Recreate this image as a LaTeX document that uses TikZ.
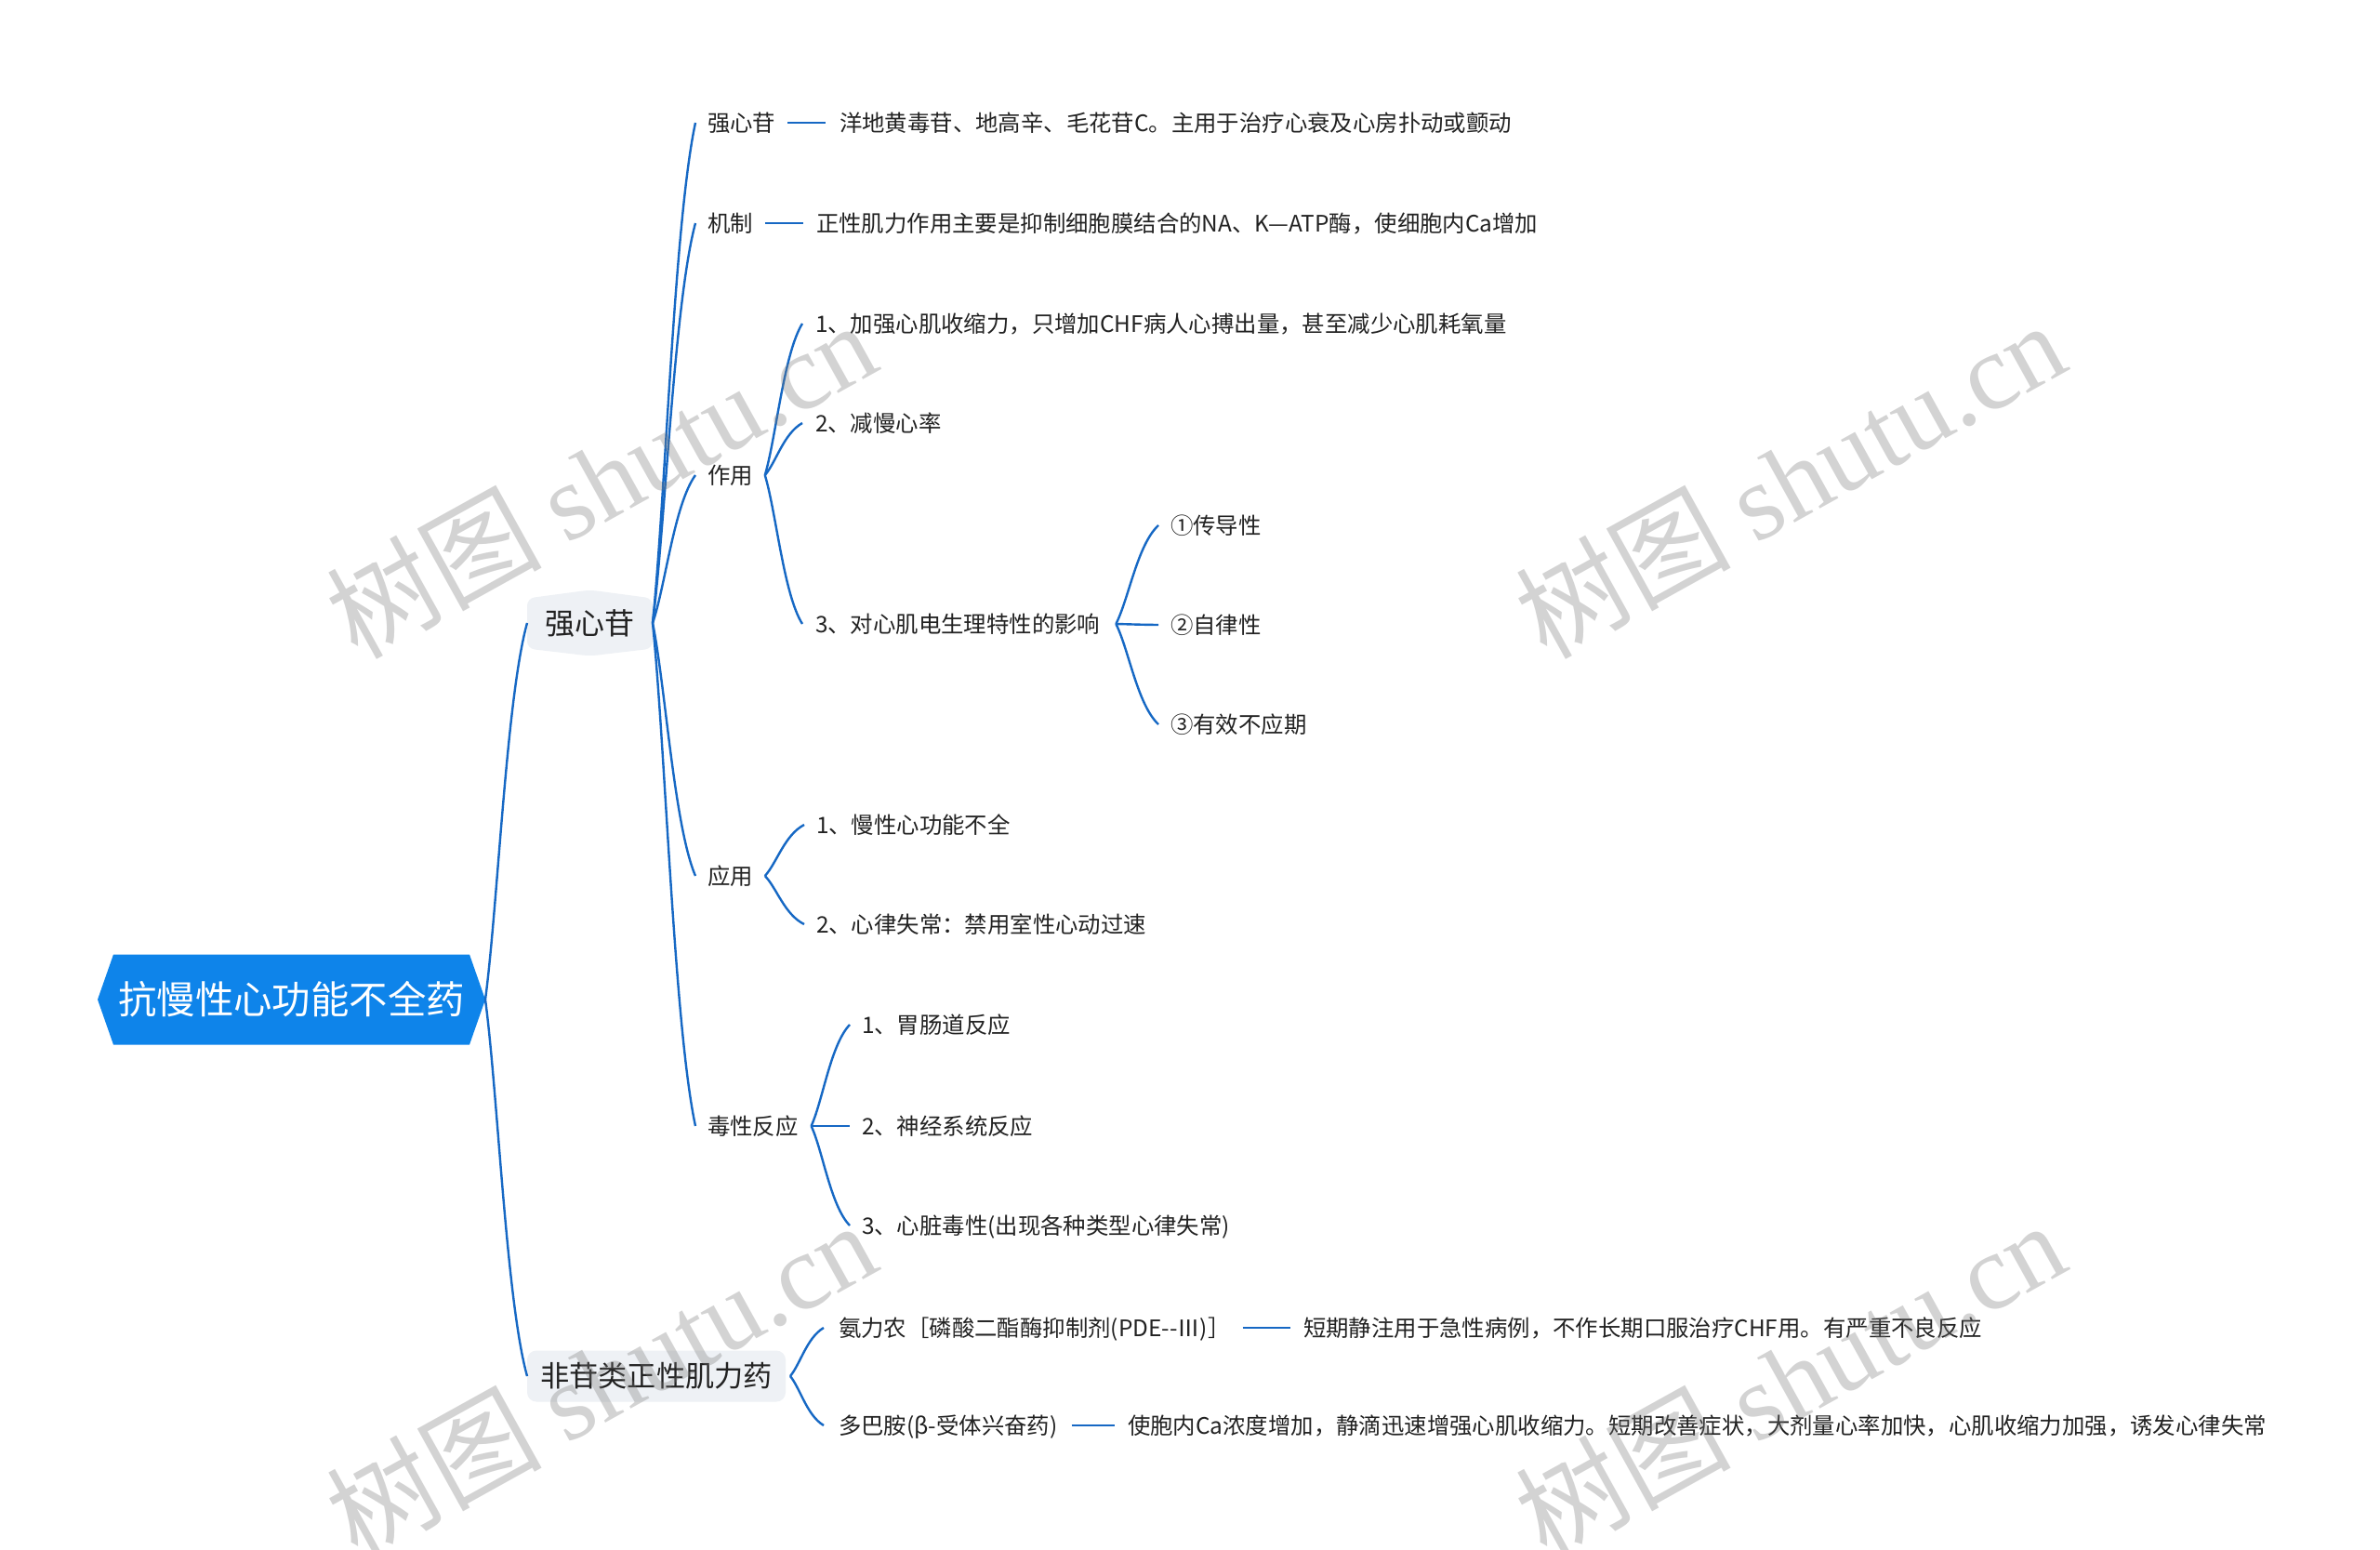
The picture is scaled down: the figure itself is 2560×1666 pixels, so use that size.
\documentclass[tikz,border=0pt]{standalone}
\usepackage{fontspec}
\setmainfont{Noto Sans CJK SC}
\newfontfamily\wmlatin{Liberation Serif}
\usetikzlibrary{calc,backgrounds}
\definecolor{conn}{RGB}{22,104,196}
\definecolor{rootblue}{RGB}{14,132,234}
\definecolor{lonefill}{RGB}{238,241,245}
\definecolor{txt}{RGB}{34,34,34}
\definecolor{wmgray}{RGB}{120,120,120}
\newcommand\brc[4]{\draw[link] let \p1=($(#1)+(#2,0)$), \p2=($(#3)+(#4,0)$) in (\p1) .. controls ({\x1+0.3*(\x2-\x1)},{\y1+0.25*(\y2-\y1)}) and ({\x2-0.5*(\x2-\x1)},{\y2-0.2*(\y2-\y1)}) .. (\p2);}
\begin{document}
\begin{tikzpicture}[x=0.5pt,y=-0.5pt,
  every node/.style={inner sep=0pt,outer sep=0pt,text=txt},
  leaf/.style={anchor=west,font=\fontsize{12.2pt}{14pt}\selectfont,text height=10.5pt,text depth=1.2pt},
  link/.style={draw=conn,line width=1.2pt},
  wmark/.style={rotate=29,text=wmgray,text opacity=0.32,font=\fontsize{58pt}{58pt}\selectfont}]
\useasboundingbox (0,0) rectangle (2560,1666);

% root
\node[minimum width=208.5pt,minimum height=48.5pt,text=white,font=\fontsize{20.7pt}{24pt}\selectfont] (root) at (313.5,1075) {抗慢性心功能不全药};
% level 1
\node[minimum width=67.5pt,minimum height=35.5pt,font=\fontsize{16pt}{19pt}\selectfont] (qxg) at (634.5,670) {强心苷};
\node[minimum width=139pt,minimum height=27.5pt,font=\fontsize{15.6pt}{18pt}\selectfont] (fg) at (706,1480) {非苷类正性肌力药};

\begin{scope}[on background layer]
\fill[white] (0,0) rectangle (2560,1666);
\fill[rootblue] (root.west) -- ($(root.north west)+(17,0)$) -- ($(root.north east)+(-17,0)$) -- (root.east) -- ($(root.south east)+(-17,0)$) -- ($(root.south west)+(17,0)$) -- cycle;
\fill[lonefill,rounded corners=4pt] ($(qxg.north west)+(0,9)$) -- (qxg.north) -- ($(qxg.north east)+(0,9)$) -- ($(qxg.south east)+(0,-8)$) -- (qxg.south) -- ($(qxg.south west)+(0,-8)$) -- cycle;
\fill[lonefill,rounded corners=5pt] (fg.north west) rectangle (fg.south east);
\end{scope}

% level 2 and below
\node[leaf] (a1) at (761,132) {强心苷};
\node[leaf] (a1d) at (903,132) {洋地黄毒苷、地高辛、毛花苷C。主用于治疗心衰及心房扑动或颤动};
\node[leaf] (a2) at (761,240) {机制};
\node[leaf] (a2d) at (878,240) {正性肌力作用主要是抑制细胞膜结合的NA、K—ATP酶，使细胞内Ca增加};
\node[leaf] (a3) at (761,511) {作用};
\node[leaf] (b1) at (877,348) {1、加强心肌收缩力，只增加CHF病人心搏出量，甚至减少心肌耗氧量};
\node[leaf] (b2) at (877,455) {2、减慢心率};
\node[leaf] (b3) at (877,671) {3、对心肌电生理特性的影响};
\node[leaf] (c1) at (1259,565) {①传导性};
\node[leaf] (c2) at (1259,672) {②自律性};
\node[leaf] (c3) at (1259,779) {③有效不应期};
\node[leaf] (a4) at (761,942) {应用};
\node[leaf] (d1) at (878,887) {1、慢性心功能不全};
\node[leaf] (d2) at (878,994) {2、心律失常：禁用室性心动过速};
\node[leaf] (a5) at (761,1211) {毒性反应};
\node[leaf] (e1) at (927,1102) {1、胃肠道反应};
\node[leaf] (e2) at (927,1211) {2、神经系统反应};
\node[leaf] (e3) at (927,1318) {3、心脏毒性(出现各种类型心律失常)};
\node[leaf] (f1) at (902,1428) {氨力农［磷酸二酯酶抑制剂(PDE-{}-Ⅲ)］};
\node[leaf] (f1d) at (1402,1428) {短期静注用于急性病例，不作长期口服治疗CHF用。有严重不良反应};
\node[leaf] (f2) at (902,1533) {多巴胺(β-受体兴奋药)};
\node[leaf] (f2d) at (1213,1533) {使胞内Ca浓度增加，静滴迅速增强心肌收缩力。短期改善症状，大剂量心率加快，心肌收缩力加强，诱发心律失常};

% connectors
\brc{root.east}{0}{qxg.west}{0}
\brc{root.east}{0}{fg.west}{0}
\foreach \nm in {a1,a2,a3,a4,a5} {\brc{qxg.east}{0}{\nm.west}{-13}}
\foreach \nm in {b1,b2,b3} {\brc{a3.east}{13}{\nm.west}{-14}}
\foreach \nm in {c1,c2,c3} {\brc{b3.east}{17}{\nm.west}{-13}}
\foreach \nm in {d1,d2} {\brc{a4.east}{13}{\nm.west}{-13}}
\foreach \nm in {e1,e2,e3} {\brc{a5.east}{14}{\nm.west}{-13}}
\foreach \nm in {f1,f2} {\brc{fg.east}{5}{\nm.west}{-16}}
\draw[link] ($(a1.east)+(13,0)$) -- ($(a1d.west)+(-15,0)$);
\draw[link] ($(a2.east)+(13,0)$) -- ($(a2d.west)+(-14,0)$);
\draw[link] ($(f1.east)+(13,0)$) -- ($(f1d.west)+(-14,0)$);
\draw[link] ($(f2.east)+(15,0)$) -- ($(f2d.west)+(-14,0)$);

% watermarks
\node[wmark] (w1) at (646,515) {树图 {\wmlatin shutu.cn}};
\node[wmark] (w2) at (1925,515) {树图 {\wmlatin shutu.cn}};
\node[wmark] (w3) at (646,1483) {树图 {\wmlatin shutu.cn}};
\node[wmark] (w4) at (1925,1483) {树图 {\wmlatin shutu.cn}};
\end{tikzpicture}
\end{document}
